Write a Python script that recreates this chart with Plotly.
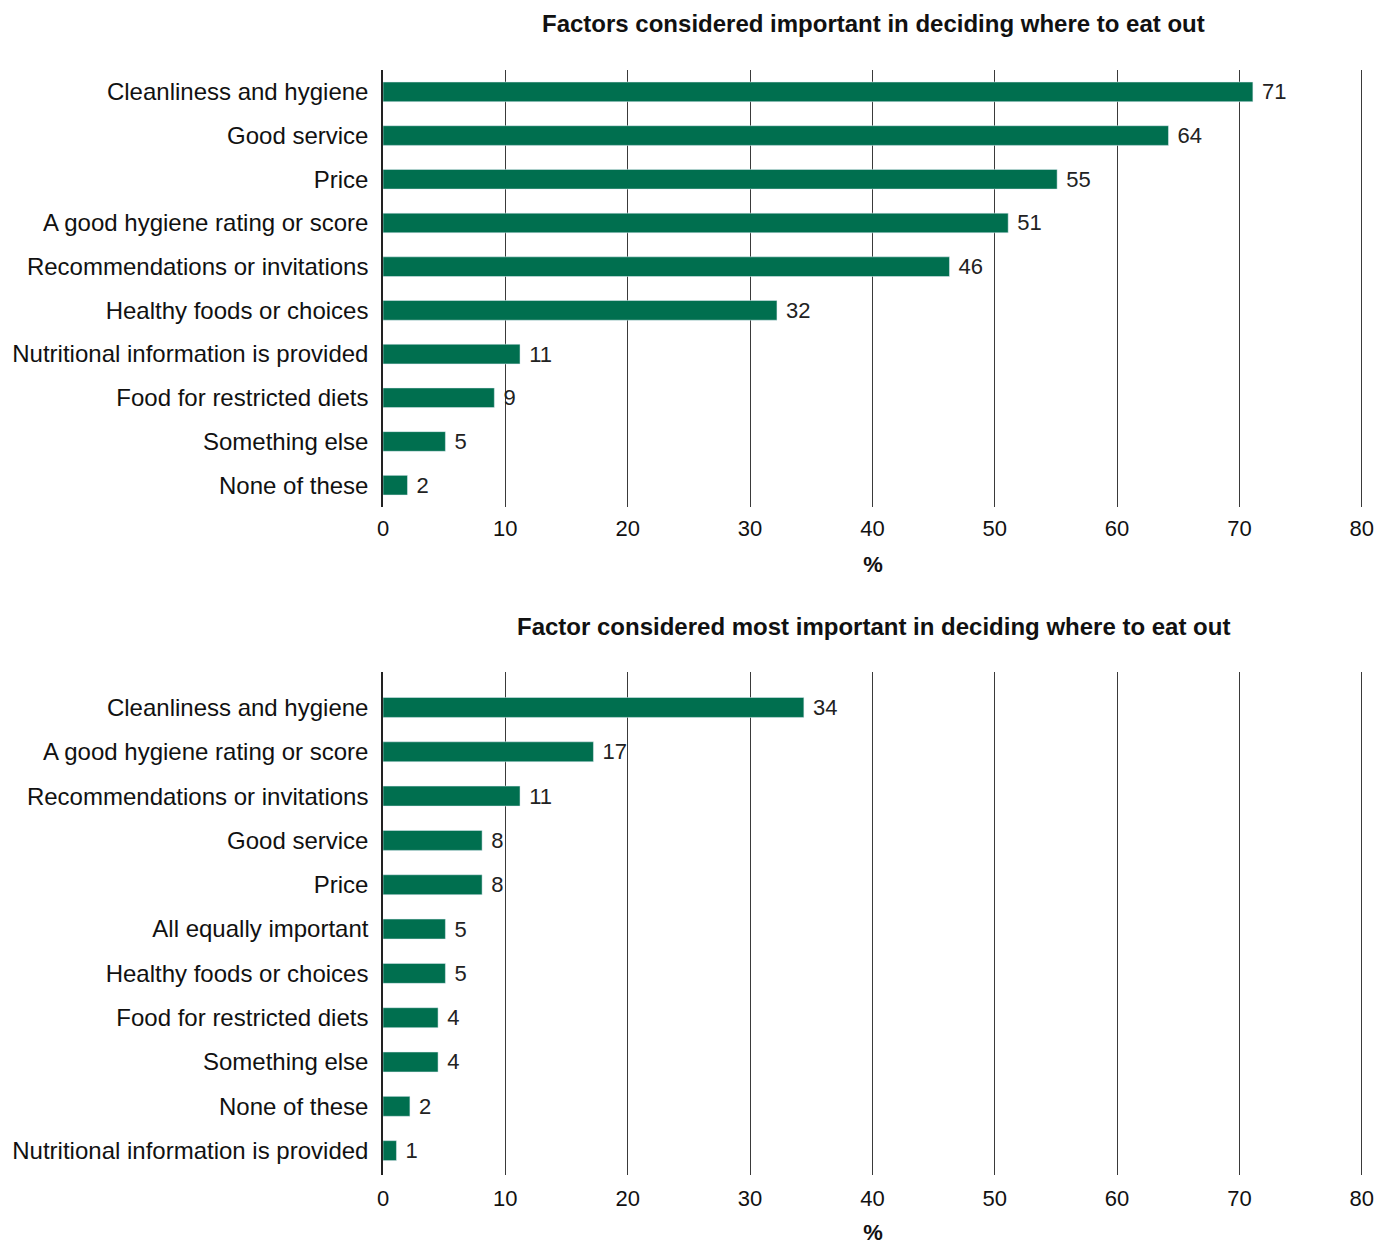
import plotly.graph_objects as go

GREEN = "#006F4F"
FONT = "Liberation Sans, Arial, sans-serif"

# Factors considered important (top chart)
top_cats = ["Cleanliness and hygiene", "Good service", "Price",
            "A good hygiene rating or score", "Recommendations or invitations",
            "Healthy foods or choices", "Nutritional information is provided",
            "Food for restricted diets", "Something else", "None of these"]
top_vals = [71.1, 64.2, 55.1, 51.1, 46.3, 32.2, 11.2, 9.1, 5.1, 2.0]
top_labels = ["71", "64", "55", "51", "46", "32", "11", "9", "5", "2"]

# Factor considered most important (bottom chart)
bot_cats = ["Cleanliness and hygiene", "A good hygiene rating or score",
            "Recommendations or invitations", "Good service", "Price",
            "All equally important", "Healthy foods or choices",
            "Food for restricted diets", "Something else", "None of these",
            "Nutritional information is provided"]
bot_vals = [34.4, 17.2, 11.2, 8.1, 8.1, 5.1, 5.1, 4.5, 4.5, 2.2, 1.1]
bot_labels = ["34", "17", "11", "8", "8", "5", "5", "4", "4", "2", "1"]

x_ticks = [0, 10, 20, 30, 40, 50, 60, 70, 80]

fig = go.Figure()

for vals, cats, labels, xa, ya in [(top_vals, top_cats, top_labels, "x", "y"),
                                   (bot_vals, bot_cats, bot_labels, "x2", "y2")]:
    fig.add_trace(go.Bar(x=vals, y=cats, orientation="h", width=0.45,
                         marker_color=GREEN, text=labels, texttemplate=" %{text}",
                         textposition="outside", constraintext="none",
                         textfont=dict(size=22, color="#222"), cliponaxis=False,
                         xaxis=xa, yaxis=ya, showlegend=False))

# range a hair past 80 so the last gridline is still drawn
xax = dict(range=[0, 80.1], tickvals=x_ticks, showgrid=True, gridcolor="#3a3a3a",
           gridwidth=1, zeroline=False, showline=False, ticks="", automargin=False,
           ticklabelstandoff=6, tickfont=dict(size=22, color="#111"),
           title=dict(text="<b>%</b>", font=dict(size=22, color="#111"), standoff=16))
yax = dict(type="category", showgrid=False, ticks="", showline=True, automargin=False,
           linecolor="#222", linewidth=1.5, ticklabelstandoff=8,
           tickfont=dict(size=24, color="#111"))

# the page adds an 8px body margin, so margins are shifted to compensate
fig.update_layout(
    width=1392, height=1245,
    margin=dict(l=375, r=37, t=62, b=78),
    paper_bgcolor="white", plot_bgcolor="white",
    font=dict(family=FONT, color="#111"),
    xaxis=dict(xax, anchor="y"),
    yaxis=dict(yax, domain=[0.6045, 1], range=[9.5, -0.5], anchor="x"),
    xaxis2=dict(xax, anchor="y2", ticklabelstandoff=8,
                title=dict(text="<b>%</b>", font=dict(size=22, color="#111"), standoff=14)),
    yaxis2=dict(yax, domain=[0, 0.4552], range=[10.55, -0.8], anchor="x2"),
    annotations=[
        dict(text="<b>Factors considered important in deciding where to eat out</b>",
             xref="paper", yref="paper", x=0.5, y=1, yshift=47, showarrow=False,
             font=dict(size=24, color="#111"), xanchor="center", yanchor="middle"),
        dict(text="<b>Factor considered most important in deciding where to eat out</b>",
             xref="paper", yref="paper", x=0.5, y=0.4552, yshift=46, showarrow=False,
             font=dict(size=24, color="#111"), xanchor="center", yanchor="middle"),
    ],
)

fig.write_html("out.html")
